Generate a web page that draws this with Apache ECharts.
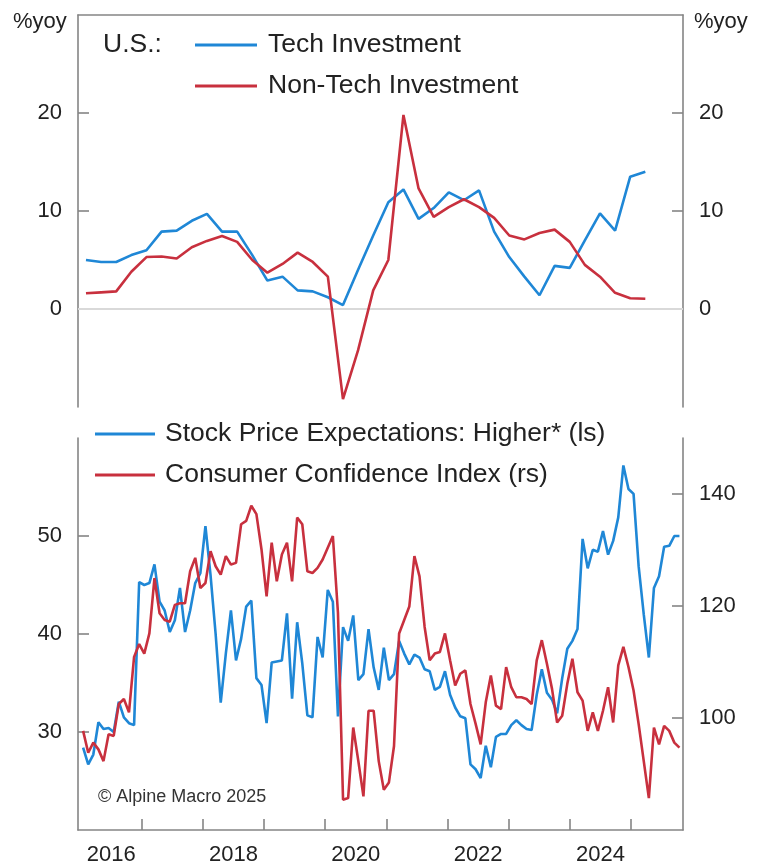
<!DOCTYPE html>
<html><head><meta charset="utf-8">
<script src="https://cdn.jsdelivr.net/npm/echarts@6/dist/echarts.min.js"></script>
<style>html,body{margin:0;padding:0;background:#fff}#c{width:757px;height:868px}</style>
</head><body><div id="c"></div>
<script>
// ---------- DATA ----------
const quarters = ['2016Q1','2016Q2','2016Q3','2016Q4','2017Q1','2017Q2','2017Q3','2017Q4',
  '2018Q1','2018Q2','2018Q3','2018Q4','2019Q1','2019Q2','2019Q3','2019Q4',
  '2020Q1','2020Q2','2020Q3','2020Q4','2021Q1','2021Q2','2021Q3','2021Q4',
  '2022Q1','2022Q2','2022Q3','2022Q4','2023Q1','2023Q2','2023Q3','2023Q4',
  '2024Q1','2024Q2','2024Q3','2024Q4','2025Q1','2025Q2'];
const techInvestment = [5.0,4.8,4.8,5.5,6.0,7.9,8.0,9.0,9.7,7.9,7.9,5.5,2.9,3.3,1.9,1.8,
  1.2,0.4,4.0,7.5,10.9,12.2,9.2,10.3,11.9,11.1,12.1,7.9,5.3,3.3,1.4,4.4,4.2,7.0,9.75,8.0,13.5,14.0];
const nonTechInvestment = [1.6,1.7,1.8,3.8,5.3,5.35,5.15,6.3,6.95,7.45,6.85,5.0,3.7,4.6,5.75,4.8,
  3.3,-9.2,-4.2,1.9,5.0,19.8,12.3,9.4,10.4,11.2,10.4,9.3,7.5,7.1,7.75,8.1,6.85,4.5,3.3,1.65,1.1,1.05];

const monthStart = '2016-01';
const stockExpHigher = [28.4,26.7,27.7,31.0,30.3,30.4,30.0,33.1,31.5,30.9,30.7,45.3,
  45.0,45.2,47.1,43.3,42.4,40.2,41.4,44.7,40.2,42.4,45.2,46.2,
  51.0,46.0,40.0,33.0,38.0,42.4,37.3,39.5,42.8,43.4,35.5,34.8,
  30.9,37.1,37.2,37.3,42.1,33.4,41.2,37.0,31.7,31.5,39.7,37.6,
  44.5,43.3,31.6,40.7,39.3,41.9,35.3,35.9,40.5,36.6,34.3,38.6,
  35.3,35.9,39.3,38.0,36.9,37.9,37.6,36.4,36.2,34.3,34.6,36.2,
  33.8,32.5,31.6,31.4,26.7,26.2,25.3,28.6,26.4,29.5,29.8,29.8,
  30.7,31.2,30.7,30.3,30.2,33.8,36.4,34.0,33.3,31.9,35.5,38.5,
  39.3,40.5,49.7,46.7,48.6,48.4,50.5,48.1,49.5,51.9,57.2,54.8,
  54.3,46.9,42.0,37.6,44.7,45.9,48.9,49.0,50.0,50.0];
const consumerConfidence = [97.7,93.8,95.6,94.4,92.3,97.1,96.8,102.5,103.4,101.0,110.9,113.2,
  111.5,115.1,125.0,118.7,117.5,117.2,120.2,120.5,120.5,126.2,128.6,123.2,
  124.1,129.8,127.1,125.6,128.9,127.4,127.7,134.6,135.2,137.9,136.4,130.1,
  121.7,131.3,124.4,129.2,131.3,124.4,135.8,134.6,126.2,125.9,126.8,128.3,
  130.4,132.5,118.8,85.4,85.7,98.3,92.3,86.0,101.3,101.3,92.3,87.2,
  88.5,95.0,115.1,117.5,119.9,128.9,125.3,116.3,110.3,111.5,111.8,115.1,
  110.3,105.8,107.9,108.5,102.5,99.0,95.3,102.8,107.6,102.2,101.6,109.1,
  105.5,103.7,103.7,103.4,102.5,110.3,113.9,109.7,105.2,99.2,100.4,106.1,
  110.6,104.6,103.1,97.7,101.0,97.7,101.3,105.5,99.2,109.4,112.7,109.1,
  104.9,98.9,92.3,85.7,98.3,95.3,98.6,97.7,95.6,94.7];

const topTicks = [0,10,20];
const leftTicksB = [30,40,50];
const rightTicksB = [100,120,140];
const yearTicks = [2017,2018,2019,2020,2021,2022,2023,2024,2025];
const yearLabels = [2016,2018,2020,2022,2024];

// ---------- BUILD ----------
const qPos = q => +q.slice(0,4) + (+q.slice(5) - 1) / 4;
const y0 = +monthStart.slice(0,4), m0 = +monthStart.slice(5) - 1;
const mPos = i => y0 + (m0 + i + 0.5) / 12;

const techData = quarters.map((q,i)=>[qPos(q), techInvestment[i]]);
const nonTechData = quarters.map((q,i)=>[qPos(q), nonTechInvestment[i]]);
const stockData = stockExpHigher.map((v,i)=>[mPos(i), v]);
const ccData = consumerConfidence.map((v,i)=>[mPos(i), v]);

const FONT = 'Liberation Sans, Arial, Helvetica, sans-serif';
const AX = '#858585', BLUE = '#1f87d6', RED = '#c8303e', TXT = '#222222';
const axisLine = {show:true, onZero:false, lineStyle:{color:AX, width:1.6}};
const tick = vals => ({show:true, inside:true, length:11, customValues:vals, lineStyle:{color:AX, width:1.6}});
const lab = vals => ({show:true, customValues:vals, margin:16, color:TXT, fontSize:22, fontFamily:FONT});

const chart = echarts.init(document.getElementById('c'));
chart.setOption({
  animation:false,
  backgroundColor:'#fff',
  grid:[
    {left:78, right:74, top:15, height:392},
    {left:78, right:74, top:438, height:392}
  ],
  xAxis:[
    {gridIndex:0, type:'value', min:2015.868, max:2025.873, position:'top',
     axisLine:axisLine, axisTick:{show:false}, axisLabel:{show:false}, splitLine:{show:false}},
    {gridIndex:1, type:'value', min:2015.958, max:2025.85, position:'bottom',
     axisLine:axisLine, axisTick:tick(yearTicks),
     axisLabel:{show:true, customValues:yearLabels.map(y=>y+0.5), formatter:v=>String(Math.floor(v)),
       margin:14, color:TXT, fontSize:22, fontFamily:FONT},
     splitLine:{show:false}}
  ],
  yAxis:[
    {gridIndex:0, type:'value', min:-10, max:30, position:'left',
     axisLine:axisLine, axisTick:tick(topTicks), axisLabel:lab(topTicks), splitLine:{show:false}},
    {gridIndex:0, type:'value', min:-10, max:30, position:'right',
     axisLine:axisLine, axisTick:tick(topTicks), axisLabel:lab(topTicks), splitLine:{show:false}},
    {gridIndex:1, type:'value', min:20, max:60, position:'left',
     axisLine:axisLine, axisTick:tick(leftTicksB), axisLabel:lab(leftTicksB), splitLine:{show:false}},
    {gridIndex:1, type:'value', min:80, max:150, position:'right',
     axisLine:axisLine, axisTick:tick(rightTicksB), axisLabel:lab(rightTicksB), splitLine:{show:false}}
  ],
  legend:[
    {data:['Tech Investment','Non-Tech Investment'], orient:'vertical', left:195, top:30,
     icon:'rect', itemWidth:62, itemHeight:3, itemGap:11, selectedMode:false, padding:0,
     textStyle:{fontSize:26.5, lineHeight:30, color:TXT, fontFamily:FONT, padding:[0,0,0,6]}},
    {data:['Stock Price Expectations: Higher* (ls)','Consumer Confidence Index (rs)'], orient:'vertical', left:95, top:419,
     icon:'rect', itemWidth:60, itemHeight:3, itemGap:11, selectedMode:false, padding:0,
     textStyle:{fontSize:26.5, lineHeight:30, color:TXT, fontFamily:FONT, padding:[0,0,0,5]}}
  ],
  graphic:[
    {type:'text', x:13, y:22, style:{text:'%yoy', font:'22px '+FONT, fill:TXT, textVerticalAlign:'middle'}},
    {type:'text', x:694, y:22, style:{text:'%yoy', font:'22px '+FONT, fill:TXT, textVerticalAlign:'middle'}},
    {type:'text', x:103, y:45, style:{text:'U.S.:', font:'26.5px '+FONT, fill:TXT, textVerticalAlign:'middle'}},
    {type:'text', x:98, y:797, style:{text:'© Alpine Macro 2025', font:'18px '+FONT, fill:'#333', textVerticalAlign:'middle'}}
  ],
  series:[
    {name:'Tech Investment', type:'line', xAxisIndex:0, yAxisIndex:0, data:techData,
     symbol:'none', color:BLUE, lineStyle:{width:2.6, color:BLUE}, z:3},
    {name:'Non-Tech Investment', type:'line', xAxisIndex:0, yAxisIndex:0, data:nonTechData,
     symbol:'none', color:RED, lineStyle:{width:2.6, color:RED}, z:3,
     markLine:{silent:true, symbol:'none', label:{show:false}, lineStyle:{color:'#d9d9d9', width:2, type:'solid'},
       data:[{yAxis:0}], z:1}},
    {name:'Stock Price Expectations: Higher* (ls)', type:'line', xAxisIndex:1, yAxisIndex:2, data:stockData,
     symbol:'none', color:BLUE, lineStyle:{width:2.6, color:BLUE}},
    {name:'Consumer Confidence Index (rs)', type:'line', xAxisIndex:1, yAxisIndex:3, data:ccData,
     symbol:'none', color:RED, lineStyle:{width:2.6, color:RED}}
  ]
});
</script></body></html>
